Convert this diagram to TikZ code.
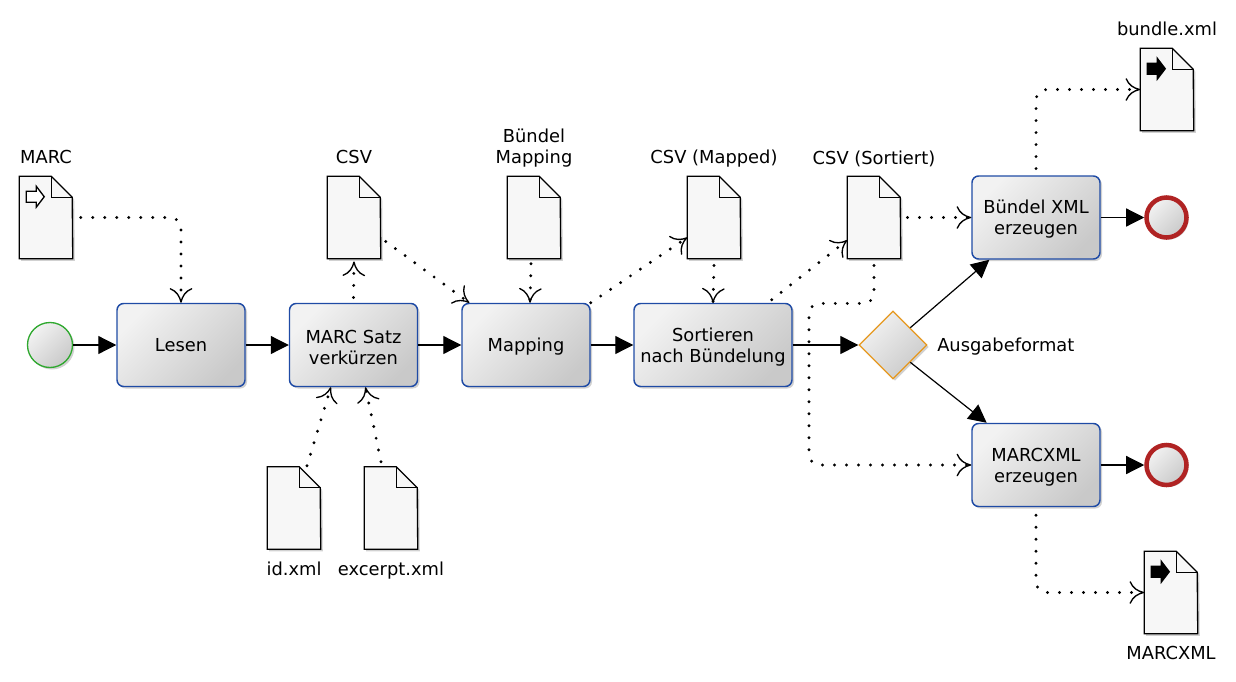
\documentclass[tikz,border=0pt]{standalone}
\usepackage{fontspec}
\setmainfont{DejaVu Sans}
\usepackage{tikz}
\usetikzlibrary{arrows.meta,positioning,shapes.geometric,shadows}

\definecolor{taskblue}{HTML}{1F4BA5}
\definecolor{startgreen}{HTML}{2FA82F}
\definecolor{gateorange}{HTML}{E6981E}
\definecolor{endred}{HTML}{B02323}

\tikzset{
  shade/.style={top color=black!5,bottom color=black!21,shading angle=45},
  softshadow/.style={drop shadow={shadow xshift=1.5pt,shadow yshift=-1.5pt,fill=black,opacity=0.18}},
  task/.style={draw=taskblue,line width=1.1pt,rounded corners=5pt,shade,softshadow,align=center,inner sep=0pt,minimum height=62.25pt},
  twoline/.style={text height=29pt},
  startev/.style={circle,draw=startgreen,line width=1pt,shade,softshadow,minimum size=33.75pt,inner sep=0pt},
  endev/.style={circle,draw=endred,line width=3.4pt,shade,softshadow,minimum size=30pt,inner sep=0pt},
  gate/.style={diamond,aspect=1,draw=gateorange,line width=1pt,shade,softshadow,minimum width=51pt,minimum height=51pt,inner sep=0pt},
  docbox/.style={rectangle,minimum width=39.75pt,minimum height=61.5pt,inner sep=0pt},
  docline/.style={draw=black,line width=1pt,fill=black!3,line join=miter,softshadow},
  doclabel/.style={inner sep=0pt,align=center},
  flow/.style={line width=0.9pt,-{Triangle[length=13.5pt,width=13.5pt]}},
  assoc/.style={line width=2.4pt,line cap=round,dash pattern=on 0pt off 9pt,rounded corners=8pt,
    -{Computer Modern Rightarrow[length=11pt,width=17pt,line width=1pt,sep=0pt]}},
}

\newcommand{\docnode}[3]{%
  \node[docbox] (#1) at (#2,#3) {};
  \draw[docline] (#1.north west) -- ++(32,0) -- ++(21,21) -- (#1.south east) -- (#1.south west) -- cycle;
  \draw[line width=1pt] ([xshift=-15.75pt]#1.north east) -- ++(0,21) -- ++(21,0);
}
\newcommand{\docarrow}[2]{%
  \draw[line width=1pt,#2] ([shift={(7,15)}]#1.north west) -- ++(10,0) -- ++(0,-5) -- ++(8,10.5) -- ++(-8,10.5) -- ++(0,-5) -- ++(-10,0) -- cycle;
}

\begin{document}
\begin{tikzpicture}[x=0.75pt,y=-0.75pt,every node/.style={font=\fontsize{13.4}{15.8}\selectfont}]
  \useasboundingbox (0,0) rectangle (1236,682);

  % documents
  \docnode{marc}{46}{217.5}
  \docarrow{marc}{fill=white}
  \docnode{csv}{354}{217.5}
  \docnode{bmap}{534}{217.5}
  \docnode{csvmap}{714}{217.5}
  \docnode{csvsort}{874}{217.5}
  \docnode{bundle}{1167}{89.5}
  \docarrow{bundle}{fill=black}
  \docnode{marcxml}{1171}{592.5}
  \docarrow{marcxml}{fill=black}
  \docnode{idxml}{294}{508}
  \docnode{excerpt}{391}{508}

  % document labels
  \node[doclabel,above=9pt of marc] (lmarc) {MARC};
  \node[doclabel,above=9pt of csv] (lcsv) {CSV};
  \node[doclabel,above=6.5pt of bmap] (lbmap) {Bündel\\Mapping};
  \node[doclabel,above=6.5pt of csvmap] (lcsvmap) {CSV (Mapped)};
  \node[doclabel,above=6.5pt of csvsort] (lcsvsort) {CSV (Sortiert)};
  \node[doclabel,above=9.5pt of bundle] (lbundle) {bundle.xml};
  \node[doclabel,below=9.5pt of marcxml] (lmarcxml) {MARCXML};
  \node[doclabel,below=9pt of idxml] (lidxml) {id.xml};
  \node[doclabel,below=9pt of excerpt] (lexcerpt) {excerpt.xml};

  % events, tasks and gateway
  \node[startev] (start) at (50,345) {};
  \node[task,minimum width=96pt] (lesen) at (181,345) {Lesen};
  \node[task,twoline,minimum width=96pt] (kurz) at (353.5,345) {MARC Satz\\verkürzen};
  \node[task,text depth=0pt,minimum width=96pt] (mapping) at (526,345) {Mapping};
  \node[task,twoline,minimum width=118.5pt] (sort) at (713,345) {Sortieren\\nach Bündelung};
  \node[gate] (ausgabe) at (893,345) {};
  \node[doclabel,text depth=0pt,right=7pt of ausgabe] (lausgabe) {Ausgabeformat};
  \node[task,twoline,minimum width=96pt] (bxml) at (1036,217.5) {Bündel XML\\erzeugen};
  \node[task,twoline,minimum width=96pt] (mxml) at (1036,465) {MARCXML\\erzeugen};
  \node[endev] (endb) at (1166.5,217.5) {};
  \node[endev] (endm) at (1166.5,465) {};

  % sequence flows
  \draw[flow] (start) -- (lesen);
  \draw[flow] (lesen) -- (kurz);
  \draw[flow] (kurz) -- (mapping);
  \draw[flow] (mapping) -- (sort);
  \draw[flow] (sort) -- (ausgabe);
  \draw[flow] (ausgabe.north east) -- ([xshift=-35pt]bxml.south);
  \draw[flow] (ausgabe.south east) -- ([xshift=-37pt]mxml.north);
  \draw[flow] (bxml) -- (endb);
  \draw[flow] (mxml) -- (endm);

  % data associations
  \draw[assoc] ([xshift=6pt]marc.east) -| (lesen.north);
  \draw[assoc] ([yshift=4pt]kurz.north) -- ([yshift=-2pt]csv.south);
  \draw[assoc] ([shift={(5,24)}]csv.east) -- ([xshift=6pt]mapping.north west);
  \draw[assoc] ([shift={(-3,5)}]bmap.south) -- ([xshift=3pt]mapping.north);
  \draw[assoc] (mapping.north east) -- ([yshift=-15pt]csvmap.west);
  \draw[assoc] ([yshift=-5pt]csvmap.south) -- (sort.north);
  \draw[assoc] ([shift={(-21,-3)}]sort.north east) -- ([yshift=-17pt]csvsort.west);
  \draw[assoc] ([xshift=5pt]csvsort.east) -- (bxml.west |- csvsort.east);
  \draw[assoc] ([yshift=-5pt]csvsort.south) -- ++(0,38) -- ++(-65,0) |- (mxml.west);
  \draw[assoc] ([yshift=5pt]bxml.north) |- (bundle.west);
  \draw[assoc] ([yshift=-6pt]mxml.south) |- (marcxml.west);
  \draw[assoc] ([shift={(13,-1)}]idxml.north) -- ([xshift=-17pt]kurz.south);
  \draw[assoc] ([shift={(-10,-5)}]excerpt.north) -- ([xshift=9pt]kurz.south);
\end{tikzpicture}
\end{document}
